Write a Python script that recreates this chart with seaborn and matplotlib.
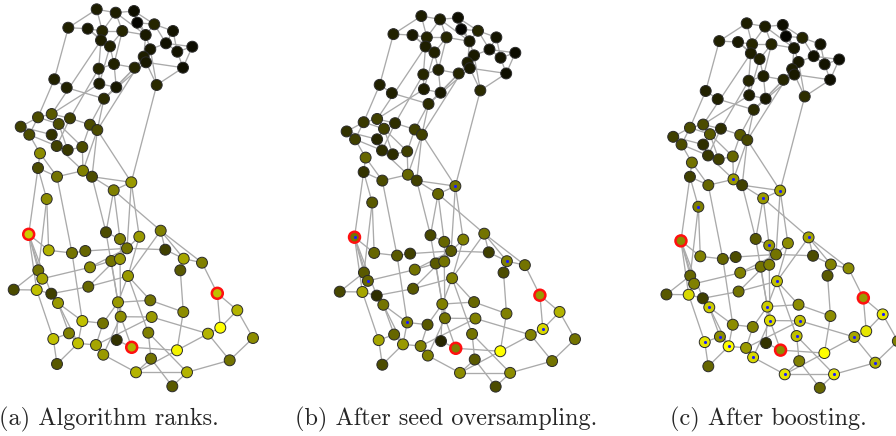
import matplotlib
matplotlib.use("Agg")
import matplotlib.pyplot as plt
from matplotlib.collections import LineCollection
from matplotlib.colors import LinearSegmentedColormap
import numpy as np
import pandas as pd
import seaborn as sns

# Graph layout (node coordinates, shared by all three panels)
node_x = [96.7, 115.7, 134.0, 137.3, 68.3, 87.7, 102.3, 122.3, 154.3, 173.0,
          145.7, 101.0, 110.0, 166.0, 150.3, 192.3, 177.3, 143.7, 146.0, 183.0,
          114.0, 134.7, 98.7, 54.3, 66.7, 99.3, 116.3, 156.7, 104.0, 51.7,
          38.0, 70.0, 20.7, 58.7, 90.0, 97.3, 29.3, 51.7, 56.7, 67.7,
          82.3, 40.0, 38.0, 57.0, 83.0, 92.0, 131.3, 113.7, 46.7, 28.7,
          48.7, 72.0, 85.3, 106.0, 120.0, 127.0, 139.3, 160.7, 165.3, 183.7,
          202.0, 180.3, 111.3, 120.0, 90.0, 38.3, 42.3, 13.7, 36.7, 51.3,
          58.0, 88.3, 128.0, 217.3, 118.0, 150.3, 183.3, 237.3, 220.3, 253.0,
          208.0, 82.3, 103.0, 120.7, 151.7, 148.3, 53.3, 69.0, 78.0, 96.0,
          116.7, 131.7, 177.0, 103.3, 151.0, 229.7, 57.0, 136.0, 187.0, 172.3]
node_y = [9.3, 12.7, 11.0, 22.7, 27.7, 28.7, 31.0, 31.0, 24.3, 31.0,
          35.0, 40.3, 46.3, 43.3, 49.3, 46.7, 51.7, 56.7, 62.3, 67.7,
          64.0, 67.7, 68.7, 79.3, 87.7, 83.7, 87.3, 85.0, 98.7, 114.0,
          117.3, 118.3, 126.7, 124.0, 124.7, 130.0, 134.7, 134.7, 146.0, 150.0,
          147.0, 153.3, 168.0, 176.7, 170.7, 176.7, 182.3, 190.3, 199.0, 234.3,
          250.3, 253.0, 251.0, 232.3, 239.0, 248.3, 236.7, 230.7, 249.7, 258.7,
          262.7, 270.3, 261.0, 259.0, 267.3, 270.3, 278.7, 289.7, 290.0, 293.7,
          303.0, 286.7, 276.0, 293.3, 302.3, 300.3, 312.0, 310.3, 327.7, 338.0,
          333.7, 321.0, 323.3, 316.7, 317.0, 332.7, 339.0, 333.3, 343.3, 345.0,
          340.0, 347.3, 350.3, 354.7, 358.7, 360.3, 364.0, 372.3, 372.3, 386.3]

# Edge list (1-based node ids)
edges = [
    (1, 2), (1, 5), (1, 7), (2, 3), (2, 7), (2, 8), (2, 11), (3, 4), (3, 9), (3, 11),
    (4, 9), (4, 11), (5, 6), (5, 24), (6, 7), (6, 12), (6, 13), (7, 8), (7, 12), (8, 13),
    (8, 11), (8, 21), (9, 10), (9, 14), (9, 11), (10, 14), (10, 17), (11, 15), (11, 18),
    (14, 16), (14, 17), (14, 15), (16, 17), (16, 20), (17, 20), (15, 18), (15, 19), (15, 28),
    (18, 22), (18, 19), (19, 20), (19, 28), (20, 28), (21, 13), (21, 23), (21, 22), (21, 27),
    (22, 27), (22, 29), (23, 26), (23, 32), (24, 25), (24, 31), (25, 29), (26, 27), (26, 30),
    (27, 29), (28, 47), (29, 35), (29, 36), (12, 30), (13, 26), (18, 36), (19, 29), (12, 23),
    (30, 31), (30, 32), (30, 34), (31, 33), (31, 34), (31, 37), (33, 37), (33, 38), (35, 36),
    (35, 32), (35, 41), (36, 47), (36, 45), (36, 46), (37, 42), (37, 39), (38, 34), (38, 39),
    (34, 40), (39, 40), (39, 45), (41, 40), (41, 45), (42, 43), (42, 44), (43, 44), (43, 49),
    (44, 45), (45, 46), (46, 47), (46, 48), (47, 48), (32, 39), (34, 41),
    (43, 50), (49, 51), (49, 66), (50, 51), (50, 66), (50, 69), (50, 67), (51, 52), (52, 53),
    (53, 56), (52, 82), (44, 52), (46, 54), (48, 54), (48, 55), (54, 55), (54, 75), (55, 56),
    (55, 64), (56, 57), (56, 59), (56, 63), (56, 64), (56, 65), (56, 72), (47, 57), (47, 56),
    (57, 73), (58, 59), (58, 60), (58, 61), (58, 73), (48, 58), (59, 60), (60, 62), (60, 61),
    (61, 74), (74, 79), (74, 78), (62, 77), (63, 64), (63, 65), (63, 75), (65, 67), (66, 67),
    (66, 68), (67, 69), (68, 69), (69, 70), (69, 87), (70, 71), (70, 72), (71, 82), (71, 88),
    (71, 89), (72, 73), (73, 75), (73, 76), (73, 86), (75, 76), (75, 83), (75, 84), (75, 91),
    (76, 77), (77, 93), (78, 79), (78, 80), (79, 81), (80, 96), (81, 85), (81, 93), (81, 96),
    (82, 83), (82, 89), (83, 90), (84, 85), (84, 94), (85, 90), (86, 95), (86, 99), (87, 88),
    (87, 97), (88, 89), (89, 90), (89, 97), (90, 94), (91, 92), (92, 93), (94, 98), (95, 100),
    (95, 98), (93, 98), (96, 99), (98, 99), (99, 100), (84, 92), (64, 84), (70, 50),
]

# Node scores per stage (0 = lowest rank, 1 = highest)
rank_algorithm = [
    0.12, 0.12, 0.06, 0.02, 0.13, 0.10, 0.15, 0.15, 0.15, 0.08,
    0.10, 0.12, 0.13, 0.07, 0.10, 0.05, 0.08, 0.12, 0.10, 0.06,
    0.13, 0.15, 0.15, 0.13, 0.13, 0.12, 0.10, 0.17, 0.17, 0.35,
    0.30, 0.25, 0.25, 0.30, 0.30, 0.30, 0.30, 0.20, 0.25, 0.22,
    0.30, 0.55, 0.30, 0.45, 0.50, 0.30, 0.60, 0.50, 0.55, 0.80,
    0.70, 0.45, 0.40, 0.30, 0.50, 0.45, 0.60, 0.50, 0.25, 0.65,
    0.50, 0.35, 0.45, 0.60, 0.55, 0.45, 0.65, 0.30, 0.75, 0.25,
    0.60, 0.40, 0.60, 0.75, 0.60, 0.45, 0.55, 0.70, 1.00, 0.55,
    0.70, 0.75, 0.45, 0.55, 0.60, 0.50, 0.75, 0.50, 0.75, 0.65,
    0.20, 0.70, 0.95, 0.60, 0.45, 0.45, 0.35, 0.70, 0.70, 0.35]
rank_oversampled = [
    0.12, 0.12, 0.06, 0.02, 0.13, 0.10, 0.15, 0.15, 0.15, 0.08,
    0.10, 0.12, 0.13, 0.07, 0.10, 0.05, 0.08, 0.12, 0.10, 0.06,
    0.13, 0.15, 0.15, 0.13, 0.13, 0.12, 0.10, 0.17, 0.17, 0.25,
    0.22, 0.18, 0.20, 0.25, 0.25, 0.25, 0.25, 0.15, 0.18, 0.18,
    0.25, 0.40, 0.20, 0.30, 0.40, 0.25, 0.45, 0.40, 0.35, 0.45,
    0.40, 0.35, 0.25, 0.28, 0.40, 0.35, 0.50, 0.45, 0.25, 0.50,
    0.45, 0.30, 0.35, 0.45, 0.45, 0.35, 0.40, 0.28, 0.65, 0.18,
    0.45, 0.35, 0.50, 0.60, 0.50, 0.40, 0.50, 0.70, 0.85, 0.45,
    0.50, 0.50, 0.35, 0.45, 0.50, 0.45, 0.65, 0.40, 0.60, 0.50,
    0.15, 0.50, 1.00, 0.50, 0.35, 0.45, 0.30, 0.55, 0.55, 0.30]
rank_boosted = [
    0.12, 0.12, 0.06, 0.02, 0.13, 0.10, 0.15, 0.15, 0.15, 0.08,
    0.10, 0.12, 0.13, 0.07, 0.10, 0.05, 0.08, 0.12, 0.10, 0.06,
    0.13, 0.15, 0.15, 0.13, 0.13, 0.12, 0.10, 0.18, 0.17, 0.30,
    0.30, 0.18, 0.25, 0.35, 0.35, 0.28, 0.30, 0.18, 0.22, 0.25,
    0.40, 0.45, 0.25, 0.40, 0.60, 0.25, 0.65, 0.60, 0.50, 0.55,
    0.50, 0.40, 0.30, 0.35, 0.60, 0.45, 0.55, 0.65, 0.30, 0.50,
    0.55, 0.35, 0.45, 0.50, 0.50, 0.40, 0.50, 0.35, 0.85, 0.25,
    0.80, 0.45, 0.75, 0.60, 0.80, 0.55, 0.55, 0.90, 0.90, 0.50,
    0.65, 0.55, 0.50, 0.85, 0.75, 0.75, 0.90, 0.55, 1.00, 0.60,
    0.20, 0.55, 1.00, 0.85, 0.50, 0.70, 0.40, 0.90, 0.90, 0.40]

seed_nodes = [50, 74, 92]
added_oversampled = [47, 50, 60, 67, 79, 82]
added_boosted = [45, 47, 48, 49, 55, 58, 71, 73, 75, 78, 81, 84, 85, 86, 87, 88,
                 89, 94, 96, 98, 99]

captions = ["(a) Algorithm ranks.", "(b) After seed oversampling.", "(c) After boosting."]
caption_x = [109, 446, 768]

sns.set_theme(style="white")
rank_cmap = LinearSegmentedColormap.from_list("rank", ["#000000", "#ffff00"])

W, H = 896, 436
fig = plt.figure(figsize=(W / 100, H / 100), dpi=100)

# panel placement: (left px, top px, scale)
panels = [(0.0, 0.0, 1.0), (326.3, 6.9, 0.983), (653.2, 14.3, 0.967)]
ranks = [rank_algorithm, rank_oversampled, rank_boosted]
marked = [[], added_oversampled, added_boosted]
span_x, span_y = 280.0, 395.0

seg = [[(node_x[a - 1], node_y[a - 1]), (node_x[b - 1], node_y[b - 1])] for a, b in edges]

for (ox, oy, sc), rank, mk, cap, cx in zip(panels, ranks, marked, captions, caption_x):
    ax = fig.add_axes([ox / W, 1 - (oy + span_y * sc) / H, span_x * sc / W, span_y * sc / H])
    df = pd.DataFrame({"x": node_x, "y": node_y, "rank": rank,
                       "id": np.arange(1, len(node_x) + 1)})
    ax.add_collection(LineCollection(seg, colors="#aaaaaa", linewidths=0.95, zorder=1))
    sns.scatterplot(data=df, x="x", y="y", hue="rank", palette=rank_cmap, hue_norm=(0, 1),
                    s=62, edgecolor="#2a2a2a", linewidth=0.7, legend=False, ax=ax,
                    zorder=3, clip_on=False)
    seeds = df[df["id"].isin(seed_nodes)]
    sns.scatterplot(data=seeds, x="x", y="y", hue="rank", palette=rank_cmap, hue_norm=(0, 1),
                    s=62, edgecolor="#ff1010", linewidth=1.8, legend=False, ax=ax,
                    zorder=4, clip_on=False)
    if mk:
        dots = df[df["id"].isin(mk)]
        sns.scatterplot(data=dots, x="x", y="y", color="#1a1aff", s=5, linewidth=0,
                        legend=False, ax=ax, zorder=5, clip_on=False)
    ax.set_xlim(0, span_x)
    ax.set_ylim(span_y, 0)
    ax.set_axis_off()
    fig.text(cx / W, 1 - 419 / H, cap, ha="center", va="center",
             fontfamily="cmr10", fontsize=17.5)

fig.savefig("out.png", dpi=100)
